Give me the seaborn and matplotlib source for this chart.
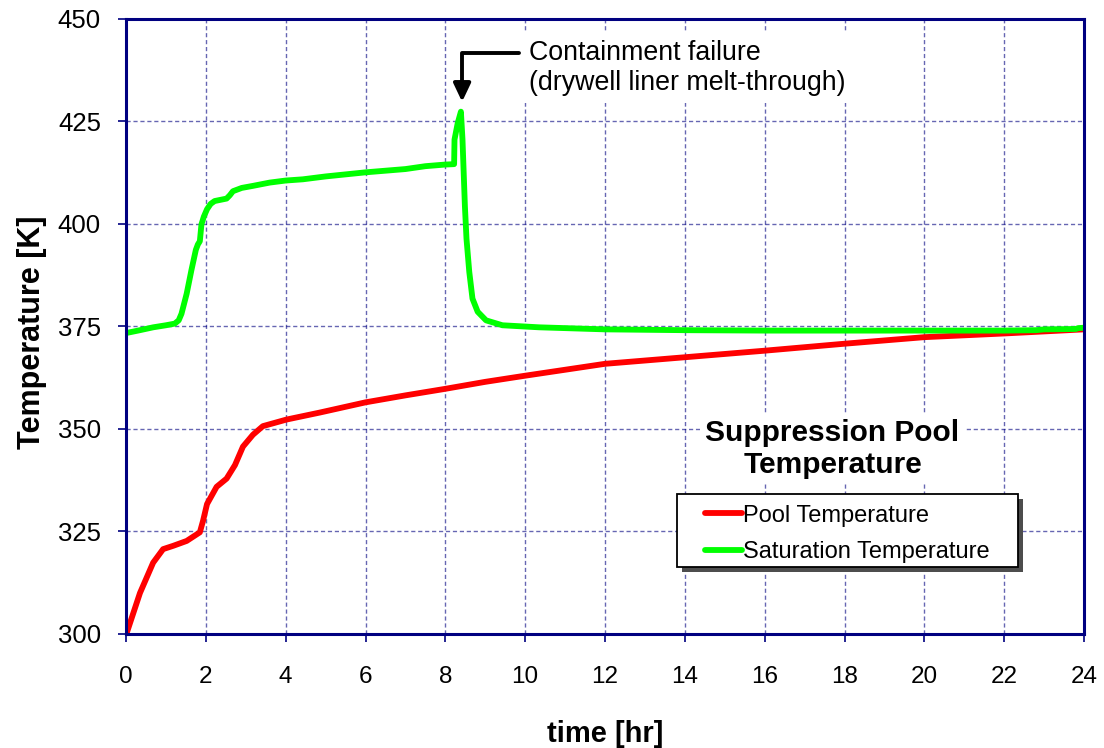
import matplotlib
matplotlib.use("Agg")
import matplotlib.pyplot as plt
import seaborn as sns
import pandas as pd
from matplotlib.patches import Rectangle

# ---------------- data ----------------
time_pool = [0.0, 0.03, 0.35, 0.68, 0.93, 1.18, 1.52, 1.85, 1.93, 2.03, 2.27, 2.52,
             2.73, 2.93, 3.18, 3.43, 4.02, 4.85, 6.0, 7.0, 8.0, 9.0, 10.0, 12.0,
             14.0, 16.0, 18.0, 20.0, 22.0, 23.0, 24.0]
temp_pool = [300.0, 300.6, 310.0, 317.4, 320.7, 321.5, 322.7, 324.8, 327.6, 331.7, 335.9, 337.9,
             341.2, 345.7, 348.6, 350.7, 352.3, 354.0, 356.5, 358.2, 359.8, 361.5, 363.0, 365.9,
             367.5, 369.1, 370.8, 372.4, 373.3, 373.8, 374.3]

time_sat = [0.0, 0.3, 0.68, 1.0, 1.22, 1.32, 1.39, 1.52, 1.64, 1.75, 1.8, 1.85, 1.89, 1.95,
            2.03, 2.12, 2.22, 2.52, 2.6, 2.68, 2.9, 3.18, 3.6, 4.0, 4.43, 5.0, 6.0, 7.0,
            7.5, 8.0, 8.22, 8.23, 8.31, 8.39, 8.43, 8.46, 8.49, 8.53, 8.6, 8.68, 8.81,
            9.02, 9.43, 10.35, 12.0, 14.0, 16.0, 18.0, 20.0, 22.0, 22.8, 23.0, 23.8, 23.85, 24.0]
temp_sat = [373.4, 374.0, 374.8, 375.3, 375.7, 376.5, 378.1, 383.0, 388.8, 393.7, 395.0, 395.8, 399.9, 401.8,
            403.6, 404.9, 405.6, 406.2, 407.0, 408.0, 408.8, 409.3, 410.1, 410.6, 410.9, 411.6, 412.6, 413.4,
            414.1, 414.5, 414.6, 420.6, 424.6, 427.4, 420.6, 412.5, 404.4, 396.4, 388.3, 381.8, 378.6,
            376.5, 375.3, 374.8, 374.3, 374.1, 374.0, 374.0, 374.0, 374.0, 374.1, 374.3, 374.4, 374.6, 374.7]

series_names = ["Pool Temperature", "Saturation Temperature"]
series_colors = ["#FF0000", "#00FF00"]
x_ticks = list(range(0, 25, 2))
y_ticks = [300, 325, 350, 375, 400, 425, 450]

x_label = "time [hr]"
y_label = "Temperature [K]"
title_text = "Suppression Pool\nTemperature"
annot_text = "Containment failure\n(drywell liner melt-through)"

# ---------------- style ----------------
sns.set_style("white")
plt.rcParams["font.family"] = ["Liberation Sans", "DejaVu Sans"]
plt.rcParams["text.color"] = "black"
plt.rcParams["axes.labelcolor"] = "black"

navy = "#000080"

df = pd.concat([
    pd.DataFrame({"time": time_pool, "temp": temp_pool, "series": series_names[0]}),
    pd.DataFrame({"time": time_sat, "temp": temp_sat, "series": series_names[1]}),
], ignore_index=True)

fig = plt.figure(figsize=(11.04, 7.48), dpi=100)
ax = fig.add_axes([126 / 1104, 1 - 634 / 748, 958 / 1104, 615 / 748])

sns.lineplot(data=df, x="time", y="temp", hue="series", hue_order=series_names,
             palette=dict(zip(series_names, series_colors)), sort=False, estimator=None,
             linewidth=4.2, ax=ax, legend=True)

ax.set_xlim(0, 24)
ax.set_ylim(300, 450)
ax.set_xticks(x_ticks)
ax.set_yticks(y_ticks)
ax.set_xticklabels([str(v) for v in x_ticks])
ax.set_yticklabels([str(v) for v in y_ticks])

ax.set_axisbelow(True)
ax.grid(True, color=navy, alpha=0.6, linewidth=1.0, linestyle=(0, (3, 2)))
for s in ax.spines.values():
    s.set_visible(True)
    s.set_color(navy)
    s.set_linewidth(2.2)

ax.tick_params(axis="y", left=True, direction="out", length=6, width=1.2, color=navy,
               labelsize=18.5, pad=12, labelcolor="black")
ax.tick_params(axis="x", bottom=True, direction="out", length=6, width=1.2, color=navy,
               labelsize=17.5, pad=17, labelcolor="black")

ax.set_xlabel(x_label, fontsize=21, fontweight="bold")
ax.set_ylabel(y_label, fontsize=22, fontweight="bold")
ax.xaxis.set_label_coords(0.5, -0.140)
ax.yaxis.set_label_coords(-0.082, 0.49)

# legend with manual frame + shadow
handles, labels = ax.get_legend_handles_labels()
ax.get_legend().remove()
bx, by, bw, bh = 0.575, 0.109, 0.356, 0.1186
ax.add_patch(Rectangle((bx + 0.0055, by - 0.0085), bw, bh, transform=ax.transAxes,
                       facecolor="0.3", edgecolor="none", zorder=5))
ax.add_patch(Rectangle((bx, by), bw, bh, transform=ax.transAxes,
                       facecolor="white", edgecolor="black", linewidth=1.3, zorder=6))
leg = ax.legend(handles, labels, loc="center", bbox_to_anchor=(0.753, 0.1625),
                frameon=False, fontsize=17, handlelength=1.57, handletextpad=0.05,
                labelspacing=0.62, borderpad=0)
leg.set_zorder(7)
for ln in leg.get_lines():
    ln.set_linewidth(4.2)

# title box inside axes
ax.text(17.7, 345.2, title_text, fontsize=21.5, fontweight="bold", ha="center",
        va="center", zorder=4, linespacing=1.18,
        bbox=dict(facecolor="white", edgecolor="none", pad=4))

# annotation
ax.text(10.1, 438.0, annot_text, fontsize=19.3, ha="left", va="center", zorder=4,
        linespacing=1.22, bbox=dict(facecolor="white", edgecolor="none", pad=5))
ax.annotate("", xy=(8.42, 429.8), xytext=(9.85, 441.6),
            arrowprops=dict(arrowstyle="-|>,head_length=1.1,head_width=0.52",
                            connectionstyle="angle,angleA=0,angleB=90,rad=0",
                            color="black", lw=2.8, shrinkA=0, shrinkB=0,
                            mutation_scale=10),
            zorder=5)

fig.savefig("out.png", dpi=100)
